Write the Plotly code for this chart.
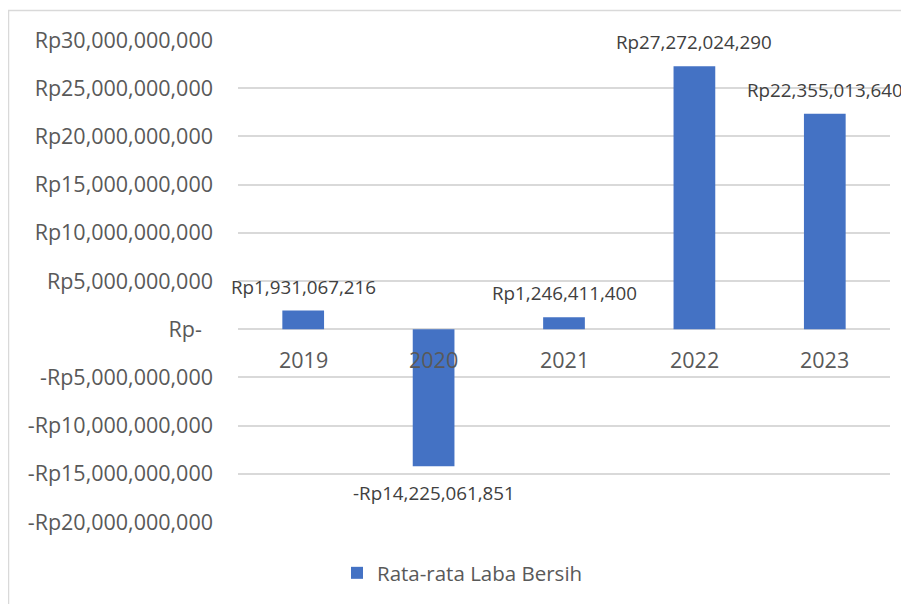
import plotly.graph_objects as go

years = ["2019", "2020", "2021", "2022", "2023"]
values = [1931067216, -14225061851, 1246411400, 27272024290, 22355013640]
value_labels = ["Rp1,931,067,216", "-Rp14,225,061,851", "Rp1,246,411,400",
                "Rp27,272,024,290", "Rp22,355,013,640"]
tick_vals = [30e9, 25e9, 20e9, 15e9, 10e9, 5e9, 0, -5e9, -10e9, -15e9, -20e9]
tick_text = ["Rp30,000,000,000", "Rp25,000,000,000", "Rp20,000,000,000",
             "Rp15,000,000,000", "Rp10,000,000,000", "Rp5,000,000,000",
             "Rp-\u00a0\u00a0", "-Rp5,000,000,000", "-Rp10,000,000,000",
             "-Rp15,000,000,000", "-Rp20,000,000,000"]
series_name = "Rata-rata Laba Bersih"

FONT = "Open Sans"
GRAY = "#595959"
OFF = 8  # page body margin
W, H = 909, 604
L, T = 238 - OFF, 40 - OFF
R = W - (890 - OFF)
B = H - (522 - OFF)
pw, ph = W - L - R, H - T - B

def px_x(px):
    return (px - OFF - L) / pw

def px_y(py):
    return (H - (py - OFF) - B) / ph

fig = go.Figure()
fig.add_trace(go.Bar(x=years, y=values, name=series_name, marker_color="#4472C4",
                     marker_line_width=0, width=0.32, showlegend=True))

annotations = []
for i, (yr, v, lab) in enumerate(zip(years, values, value_labels)):
    pos = v >= 0
    annotations.append(dict(x=i, y=v, xref="x", yref="y", text=lab, showarrow=False,
                            yanchor="bottom" if pos else "top",
                            yshift=9 if pos else -12,
                            font=dict(family=FONT, size=18.8, color="#404040")))
    annotations.append(dict(x=i, y=0, xref="x", yref="y", text=yr, showarrow=False,
                            yanchor="top", yshift=-14,
                            font=dict(family=FONT, size=21.5, color=GRAY)))

# outer chart border
shapes = [dict(type="rect", xref="paper", yref="paper",
               x0=px_x(8.5), x1=px_x(W + 40),
               y0=px_y(H + 40), y1=px_y(10.5),
               line=dict(color="#d9d9d9", width=1.5), fillcolor="rgba(0,0,0,0)")]

fig.update_layout(
    width=W, height=H,
    margin=dict(l=L, r=R, t=T, b=B, autoexpand=False),
    paper_bgcolor="white", plot_bgcolor="white",
    font=dict(family=FONT, color=GRAY),
    annotations=annotations, shapes=shapes,
    showlegend=True,
    legend=dict(orientation="h", x=px_x(337), xanchor="left",
                y=px_y(573), yanchor="middle",
                font=dict(family=FONT, size=20.5, color=GRAY),
                bgcolor="rgba(0,0,0,0)"),
)
fig.update_xaxes(type="category", showticklabels=False, showgrid=False, zeroline=False,
                 showline=False, range=[-0.5, 4.5], fixedrange=True)
fig.update_yaxes(range=[-20e9, 30e9], tickvals=tick_vals, ticktext=tick_text,
                 showgrid=True, gridcolor="#d9d9d9", gridwidth=1.5,
                 zeroline=True, zerolinecolor="#d9d9d9", zerolinewidth=1.5,
                 showline=False, ticks="", ticklabelstandoff=24,
                 tickfont=dict(family=FONT, size=21.5, color=GRAY))

fig.write_html("out.html")
